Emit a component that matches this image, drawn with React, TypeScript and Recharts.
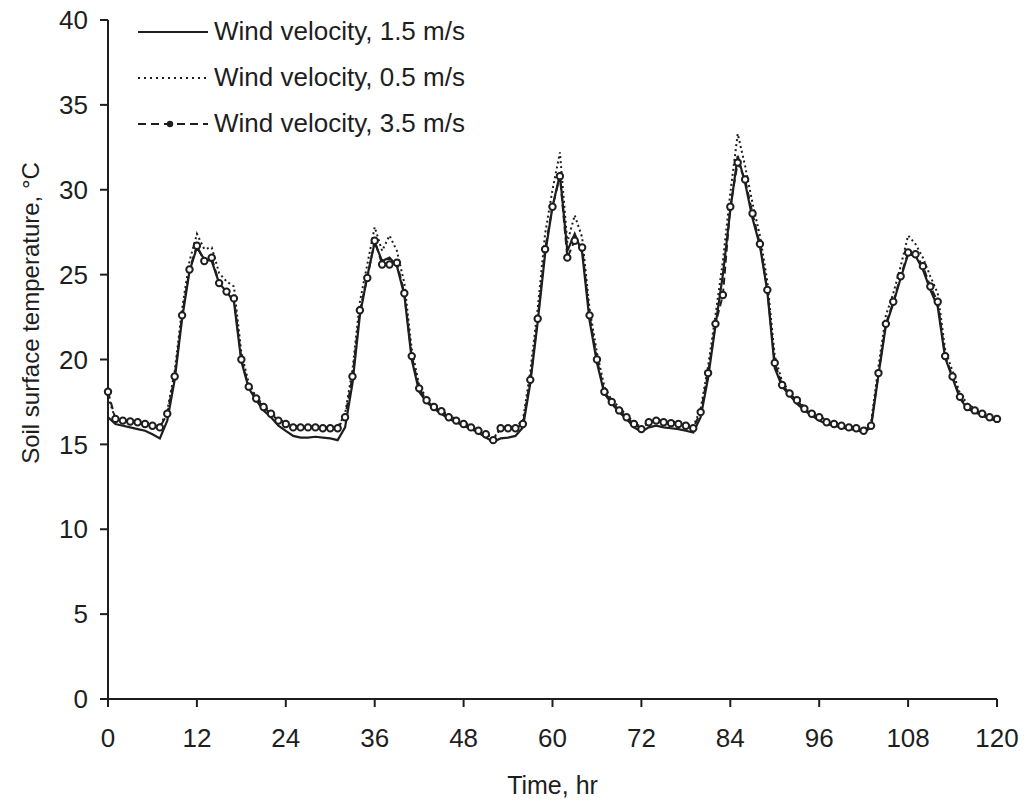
import React from 'react';
import { LineChart, Line, XAxis, YAxis } from 'recharts';

// hourly readings, hour 0 .. 120
const hours = Array.from({ length: 121 }, (_, i) => i);

// wind velocity 1.5 m/s (solid)
const wind15 = [
  16.6, 16.2, 16.1, 16.0, 15.9, 15.8, 15.6, 15.35, 16.4, 18.8, 22.4, 25.2,
  26.6, 25.9, 25.8, 24.5, 24.0, 23.4, 19.9, 18.3, 17.6, 17.0, 16.6, 16.1,
  15.8, 15.5, 15.4, 15.4, 15.45, 15.4, 15.35, 15.25, 16.0, 18.6, 22.6, 24.9,
  26.9, 25.8, 26.0, 25.5, 23.8, 20.0, 18.1, 17.5, 17.1, 16.8, 16.5, 16.3,
  16.1, 15.9, 15.7, 15.4, 15.15, 15.35, 15.4, 15.5, 16.0, 18.6, 22.2, 26.2,
  29.0, 30.9, 26.4, 27.4, 26.3, 22.3, 19.8, 18.0, 17.4, 16.9, 16.5, 16.0,
  15.75, 16.0, 16.1, 16.0, 15.95, 15.9, 15.8, 15.7, 16.6, 18.9, 22.0, 25.0,
  28.8, 32.0, 30.4, 28.3, 26.7, 24.0, 19.5, 18.4, 17.9, 17.4, 17.0, 16.7,
  16.4, 16.2, 16.1, 16.0, 15.9, 15.85, 15.7, 16.0, 19.1, 22.0, 23.3, 24.8,
  26.2, 26.1, 25.3, 24.1, 23.1, 20.1, 18.9, 17.7, 17.1, 16.9, 16.7, 16.5,
  16.4,
];

// wind velocity 0.5 m/s (dotted)
const wind05 = [
  17.8, 16.5, 16.45, 16.4, 16.35, 16.25, 16.15, 16.05, 17.0, 19.3, 23.0, 25.8,
  27.4, 26.5, 26.6, 25.1, 24.6, 24.3, 20.4, 18.6, 17.8, 17.3, 16.9, 16.5,
  16.25, 16.1, 16.05, 16.05, 16.05, 16.0, 16.0, 16.0, 16.8, 19.4, 23.4, 25.6,
  27.8, 26.4, 27.3, 26.4, 24.5, 20.6, 18.5, 17.7, 17.3, 17.0, 16.7, 16.5,
  16.3, 16.1, 15.85, 15.65, 15.3, 16.05, 16.05, 16.05, 16.4, 19.3, 23.0, 27.4,
  30.0, 32.2, 26.9, 28.5, 27.2, 23.0, 20.4, 18.4, 17.6, 17.2, 16.7, 16.3,
  16.0, 16.4, 16.5, 16.4, 16.35, 16.3, 16.2, 16.05, 17.1, 19.6, 22.6, 25.8,
  29.8, 33.3, 31.4, 29.2, 27.3, 24.6, 20.2, 18.7, 18.1, 17.7, 17.2, 16.9,
  16.7, 16.4, 16.25, 16.15, 16.05, 16.0, 15.85, 16.3, 19.6, 22.6, 23.9, 25.5,
  27.3, 26.8, 26.0, 24.9, 23.9, 20.6, 19.3, 18.0, 17.4, 17.1, 16.9, 16.7,
  16.6,
];

// wind velocity 3.5 m/s (dashed, with markers)
const wind35 = [
  18.1, 16.5, 16.4, 16.35, 16.3, 16.2, 16.1, 16.0, 16.8, 19.0, 22.6, 25.3,
  26.7, 25.8, 26.0, 24.5, 24.0, 23.6, 20.0, 18.4, 17.7, 17.2, 16.8, 16.4,
  16.2, 16.0, 16.0, 16.0, 16.0, 15.95, 15.95, 15.95, 16.6, 19.0, 22.9, 24.8,
  27.0, 25.6, 25.6, 25.7, 23.9, 20.2, 18.3, 17.6, 17.2, 16.95, 16.6, 16.4,
  16.2, 16.0, 15.8, 15.6, 15.25, 15.95, 15.95, 15.95, 16.2, 18.8, 22.4, 26.5,
  29.0, 30.8, 26.0, 27.0, 26.6, 22.6, 20.0, 18.1, 17.5, 17.0, 16.6, 16.2,
  15.9, 16.3, 16.4, 16.3, 16.25, 16.2, 16.1, 15.95, 16.9, 19.2, 22.1, 23.8,
  29.0, 31.6, 30.6, 28.6, 26.8, 24.1, 19.8, 18.5, 18.0, 17.6, 17.1, 16.8,
  16.6, 16.3, 16.2, 16.1, 16.0, 15.95, 15.8, 16.1, 19.2, 22.1, 23.4, 24.9,
  26.3, 26.2, 25.5, 24.3, 23.4, 20.2, 19.0, 17.8, 17.2, 17.0, 16.8, 16.6,
  16.5,
];

const xTicks = [0, 12, 24, 36, 48, 60, 72, 84, 96, 108, 120];
const yTicks = [0, 5, 10, 15, 20, 25, 30, 35, 40];
const seriesNames = ['Wind velocity, 1.5 m/s', 'Wind velocity, 0.5 m/s', 'Wind velocity, 3.5 m/s'];

const data = hours.map((h, i) => ({
  hour: h,
  w15: wind15[i],
  w05: wind05[i],
  w35: wind35[i],
}));

const INK = '#1e1e1e';
const FONT = '"Liberation Sans", Arial, Helvetica, sans-serif';

const YTitle = () => (
  <text
    x={30}
    y={313}
    transform="rotate(-90 30 313)"
    textAnchor="middle"
    dominantBaseline="central"
    fill={INK}
    fontSize={24}
    fontFamily={FONT}
  >
    Soil surface temperature, °C
  </text>
);

// legend sits over the top-left corner of the plot
const LegendBox = () => (
  <div
    style={{
      position: 'absolute',
      left: 137,
      top: 8,
      fontFamily: FONT,
      fontSize: 26,
      color: INK,
    }}
  >
    {seriesNames.map((name, i) => (
      <div key={name} style={{ display: 'flex', alignItems: 'center', height: 46 }}>
        <svg width={72} height={46}>
          {i === 0 && <line x1={1} y1={24} x2={71} y2={24} stroke={INK} strokeWidth={2} />}
          {i === 1 && (
            <line x1={1} y1={24} x2={71} y2={24} stroke={INK} strokeWidth={1.8} strokeDasharray="2 4" />
          )}
          {i === 2 && (
            <g>
              <line x1={1} y1={24} x2={71} y2={24} stroke={INK} strokeWidth={1.8} strokeDasharray="8 5" />
              <circle cx={33} cy={24} r={3.2} fill={INK} />
            </g>
          )}
        </svg>
        <span style={{ marginLeft: 5, whiteSpace: 'nowrap' }}>{name}</span>
      </div>
    ))}
  </div>
);

export default function App() {
  return (
    <div style={{ position: 'absolute', left: 0, top: 0, width: 1025, height: 802, background: '#fff' }}>
      <LineChart width={1025} height={802} data={data} margin={{ top: 20, right: 28, bottom: 0, left: 0 }}>
        <XAxis
          dataKey="hour"
          type="number"
          domain={[0, 120]}
          ticks={xTicks}
          height={103}
          tickSize={8}
          tickMargin={22}
          stroke={INK}
          strokeWidth={2}
          tick={{ fill: INK, fontSize: 26, fontFamily: FONT }}
          label={{ value: 'Time, hr', position: 'insideBottom', offset: 8, fill: INK, fontSize: 25, fontFamily: FONT }}
        />
        <YAxis
          type="number"
          domain={[0, 40]}
          ticks={yTicks}
          width={108}
          tickSize={8}
          tickMargin={12}
          stroke={INK}
          strokeWidth={2}
          tick={{ fill: INK, fontSize: 26, fontFamily: FONT }}
          label={<YTitle />}
        />
        <Line
          type="linear"
          dataKey="w15"
          name={seriesNames[0]}
          stroke={INK}
          strokeWidth={2.2}
          dot={false}
          isAnimationActive={false}
        />
        <Line
          type="linear"
          dataKey="w05"
          name={seriesNames[1]}
          stroke={INK}
          strokeWidth={2}
          strokeDasharray="2 3"
          dot={false}
          isAnimationActive={false}
        />
        <Line
          type="linear"
          dataKey="w35"
          name={seriesNames[2]}
          stroke={INK}
          strokeWidth={2}
          strokeDasharray="7 4"
          dot={{ r: 3.2, fill: '#fff', stroke: INK, strokeWidth: 2, strokeDasharray: '' }}
          isAnimationActive={false}
        />
      </LineChart>
      <LegendBox />
    </div>
  );
}
